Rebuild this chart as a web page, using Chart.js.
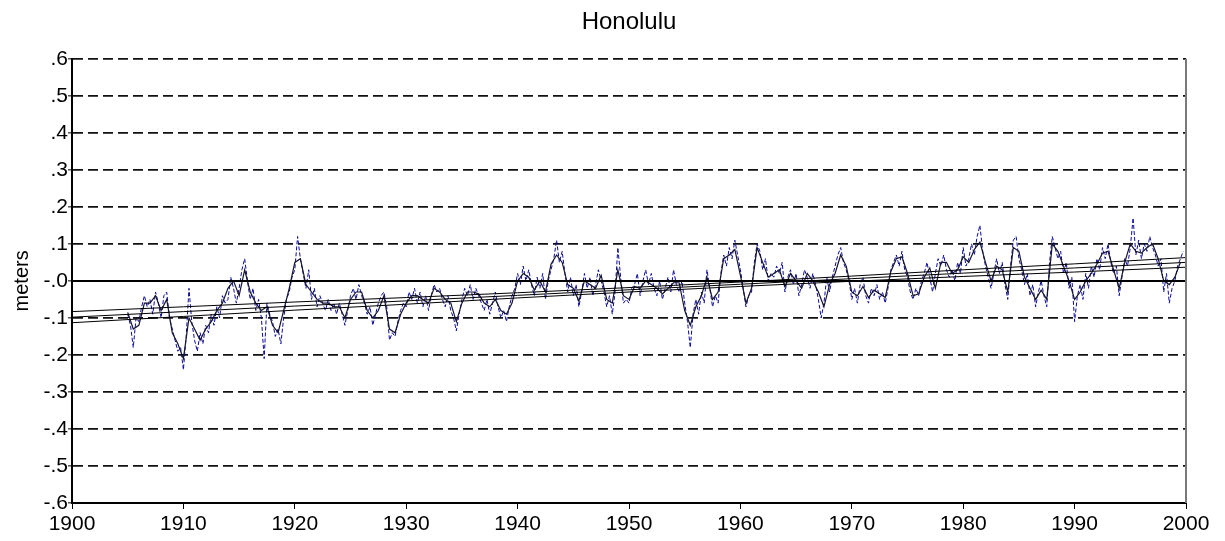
<!DOCTYPE html>
<html>
<head>
<meta charset="utf-8">
<title>Honolulu</title>
<script src="https://cdn.jsdelivr.net/npm/chart.js@4.4.0/dist/chart.umd.min.js"></script>
<style>
  html, body { margin: 0; padding: 0; background: #fff; }
  .chart-box { position: relative; width: 1225px; height: 541px; }
</style>
</head>
<body>
<div class="chart-box"><canvas id="seaLevelChart"></canvas></div>
<script>
// Honolulu sea level anomaly (meters)
const chartTitle = 'Honolulu';
const yAxisTitle = 'meters';
const yTickLabels = ['-.6', '-.5', '-.4', '-.3', '-.2', '-.1', '-.0', '.1', '.2', '.3', '.4', '.5', '.6'];

// raw series, quarterly from 1905.0 (dashed blue)
const rawStart = 1905;
const rawStep = 0.25;
const rawLevel = [
    -0.09, -0.12, -0.18, -0.10,   -0.11, -0.07, -0.04, -0.07,   // 1905-06
    -0.05, -0.09, -0.03, -0.06,   -0.10, -0.04, -0.03, -0.10,   // 1907-08
    -0.13, -0.16, -0.19, -0.18,   -0.24, -0.15, -0.02, -0.11,   // 1909-10
    -0.16, -0.19, -0.14, -0.17,   -0.12, -0.14, -0.09, -0.12,   // 1911-12
    -0.07, -0.10, -0.04, -0.06,   -0.05, 0.01, -0.02, -0.06,    // 1913-14
    -0.02, 0.03, 0.06, 0.00,      -0.05, -0.02, -0.08, -0.05,   // 1915-16
    -0.10, -0.21, -0.06, -0.09,   -0.11, -0.15, -0.13, -0.17,   // 1917-18
    -0.10, -0.05, -0.03, 0.01,    0.03, 0.12, 0.06, 0.02,       // 1919-20
    -0.02, 0.03, -0.05, -0.02,    -0.07, -0.04, -0.06, -0.08,   // 1921-22
    -0.05, -0.08, -0.06, -0.09,   -0.06, -0.09, -0.12, -0.08,   // 1923-24
    -0.04, -0.02, -0.05, -0.01,   -0.04, -0.06, -0.09, -0.07,   // 1925-26
    -0.12, -0.09, -0.06, -0.04,   -0.03, -0.07, -0.16, -0.14,   // 1927-28
    -0.15, -0.11, -0.08, -0.06,   -0.07, -0.03, -0.05, -0.02,   // 1929-30
    -0.06, -0.03, -0.07, -0.04,   -0.08, -0.04, -0.01, -0.03,   // 1931-32
    -0.02, -0.05, -0.07, -0.04,   -0.08, -0.10, -0.135, -0.09,  // 1933-34
    -0.05, -0.02, -0.04, -0.01,   -0.05, -0.02, -0.04, -0.06,   // 1935-36
    -0.08, -0.05, -0.09, -0.06,   -0.03, -0.07, -0.10, -0.08,   // 1937-38
    -0.11, -0.07, -0.04, -0.02,   0.02, -0.01, 0.04, 0.00,      // 1939-40
    0.03, -0.01, -0.04, 0.01,     -0.02, 0.02, -0.05, 0.00,     // 1941-42
    0.03, 0.06, 0.11, 0.05,       0.08, 0.02, -0.03, 0.01,      // 1943-44
    -0.04, -0.01, -0.07, -0.03,   0.02, -0.02, 0.01, -0.04,     // 1945-46
    -0.01, 0.03, 0.00, -0.03,     -0.07, -0.04, -0.09, -0.03,   // 1947-48
    0.09, 0.01, -0.06, -0.05,     -0.06, -0.02, -0.01, 0.02,    // 1949-50
    -0.04, 0.00, 0.03, -0.01,     0.02, -0.02, -0.04, 0.00,     // 1951-52
    -0.05, -0.02, 0.01, -0.03,    0.03, -0.01, -0.03, 0.00,     // 1953-54
    -0.06, -0.11, -0.18, -0.09,   -0.05, -0.09, -0.03, -0.06,   // 1955-56
    0.03, -0.02, -0.07, -0.04,    -0.06, 0.02, 0.07, 0.04,      // 1957-58
    0.09, 0.06, 0.11, 0.07,       0.03, -0.02, -0.07, -0.04,    // 1959-60
    -0.03, 0.05, 0.10, 0.08,      0.03, 0.06, 0.00, 0.02,       // 1961-62
    0.01, 0.04, 0.02, 0.05,       -0.03, 0.01, 0.03, -0.01,     // 1963-64
    0.02, -0.04, -0.01, 0.03,     0.01, -0.02, 0.02, -0.01,     // 1965-66
    -0.05, -0.10, -0.06, 0.01,    -0.03, 0.01, 0.04, 0.07,      // 1967-68
    0.09, 0.05, 0.03, 0.00,       -0.05, -0.02, -0.06, -0.01,   // 1969-70
    0.01, -0.04, -0.06, -0.02,    -0.04, -0.01, -0.05, -0.03,   // 1971-72
    -0.06, -0.02, 0.03, 0.05,     0.07, 0.04, 0.08, 0.03,       // 1973-74
    0.01, -0.03, -0.05, -0.02,    -0.04, 0.00, 0.02, 0.05,      // 1975-76
    0.01, -0.03, 0.02, 0.06,      0.04, 0.07, 0.03, 0.01,       // 1977-78
    0.03, 0.00, 0.05, 0.02,       0.09, 0.04, 0.06, 0.10,       // 1979-80
    0.07, 0.12, 0.15, 0.08,       0.04, 0.01, -0.02, 0.02,      // 1981-82
    0.06, 0.02, 0.05, -0.01,      -0.05, 0.04, 0.11, 0.12,      // 1983-84
    0.06, 0.03, -0.01, 0.02,      -0.04, -0.01, -0.07, -0.03,   // 1985-86
    0.00, -0.04, -0.07, 0.05,     0.12, 0.09, 0.06, 0.08,       // 1987-88
    0.02, 0.05, -0.02, 0.01,      -0.11, -0.04, -0.01, -0.05,   // 1989-90
    0.02, -0.02, 0.04, 0.01,      0.06, 0.03, 0.09, 0.06,       // 1991-92
    0.10, 0.05, 0.02, 0.04,       -0.04, 0.01, 0.06, 0.04,      // 1993-94
    0.09, 0.17, 0.07, 0.11,       0.06, 0.10, 0.08, 0.12,       // 1995-96
    0.09, 0.07, 0.04, 0.06,       -0.03, 0.02, -0.06, -0.02,    // 1997-98
    0.00, 0.04, 0.06, 0.08                                      // 1999
];

// smoothed series, half-yearly from 1905.0 (solid dark line)
const smoothStart = 1905;
const smoothStep = 0.5;
const smoothLevel = [
    -0.085, -0.13, -0.12, -0.06, -0.06, -0.04, -0.08, -0.05, -0.14, -0.17,      // 1905-09
    -0.21, -0.10, -0.13, -0.16, -0.13, -0.11, -0.08, -0.06, -0.02, 0.00,        // 1910-14
    -0.04, 0.03, -0.03, -0.06, -0.08, -0.07, -0.12, -0.14, -0.08, -0.02,        // 1915-19
    0.05, 0.06, -0.01, -0.03, -0.05, -0.06, -0.06, -0.07, -0.07, -0.10,         // 1920-24
    -0.05, -0.03, -0.03, -0.08, -0.10, -0.08, -0.04, -0.13, -0.14, -0.09,       // 1925-29
    -0.06, -0.04, -0.04, -0.05, -0.06, -0.02, -0.03, -0.05, -0.06, -0.11,       // 1930-34
    -0.06, -0.03, -0.03, -0.035, -0.06, -0.07, -0.05, -0.08, -0.09, -0.06,      // 1935-39
    0.00, 0.02, 0.01, -0.025, 0.00, -0.03, 0.045, 0.07, 0.05, -0.01,            // 1940-44
    -0.02, -0.055, 0.00, -0.01, -0.02, 0.015, -0.05, -0.06, 0.03, -0.04,        // 1945-49
    -0.05, -0.015, -0.02, 0.00, -0.01, -0.02, -0.035, -0.02, -0.005, -0.005,    // 1950-54
    -0.08, -0.12, -0.07, -0.04, 0.01, -0.05, -0.03, 0.06, 0.07, 0.085,          // 1955-59
    0.015, -0.06, -0.02, 0.09, 0.05, 0.01, 0.02, 0.03, -0.015, 0.02,            // 1960-64
    0.00, -0.02, 0.02, 0.00, -0.03, -0.07, -0.01, 0.02, 0.07, 0.04,             // 1965-69
    -0.03, -0.04, -0.015, -0.045, -0.025, -0.035, -0.045, 0.025, 0.06, 0.065,   // 1970-74
    0.02, -0.04, -0.035, 0.01, 0.035, -0.02, 0.05, 0.05, 0.02, 0.03,            // 1975-79
    0.065, 0.05, 0.085, 0.105, 0.05, 0.00, 0.04, 0.03, -0.03, 0.09,             // 1980-84
    0.08, 0.01, -0.02, -0.05, -0.025, -0.05, 0.10, 0.08, 0.04, 0.00,            // 1985-89
    -0.05, -0.03, 0.00, 0.02, 0.045, 0.075, 0.08, 0.03, -0.02, 0.05,            // 1990-94
    0.10, 0.08, 0.075, 0.09, 0.10, 0.06, 0.00, -0.01, 0.01, 0.05                // 1995-99
];

// linear trend with its two confidence bounds, by decade
const trendYears = [1900, 1910, 1920, 1930, 1940, 1950, 1960, 1970, 1980, 1990, 2000];
const trendMid   = [-0.098, -0.083, -0.068, -0.054, -0.039, -0.024, -0.009, 0.006, 0.021, 0.035, 0.050];
const trendUpper = [-0.083, -0.070, -0.057, -0.045, -0.032, -0.018, -0.003, 0.013, 0.030, 0.046, 0.063];
const trendLower = [-0.113, -0.096, -0.079, -0.063, -0.046, -0.030, -0.015, -0.001, 0.012, 0.024, 0.037];

// zero reference line
const refYears = [1900, 2000];
const refLevel = [0, 0];

const fontFamily = "'Liberation Sans', Arial, sans-serif";

const toPoints = (xs, ys) => ys.map((y, i) => ({ x: xs[i], y: y }));
const toSteps = (start, step, ys) => ys.map((y, i) => ({ x: start + i * step, y: y }));

// right frame line in grey
const rightFrame = {
    id: 'rightFrame',
    afterDraw(chart) {
        const { ctx, chartArea } = chart;
        ctx.save();
        ctx.strokeStyle = '#7a7a7a';
        ctx.lineWidth = 2;
        ctx.beginPath();
        ctx.moveTo(chartArea.right, chartArea.top);
        ctx.lineTo(chartArea.right, chartArea.bottom);
        ctx.stroke();
        ctx.restore();
    }
};

const initializeChart = () => {
    const ctx = document.getElementById('seaLevelChart');
    if (!ctx) return;

    const trendStyle = {
        borderColor: '#000',
        borderWidth: 1,
        pointRadius: 0,
        fill: false,
        order: 0
    };

    return new Chart(ctx.getContext('2d'), {
        type: 'line',
        data: {
            datasets: [{
                label: 'raw',
                data: toSteps(rawStart, rawStep, rawLevel),
                borderColor: '#0a0a9a',
                borderWidth: 1,
                borderDash: [4, 2],
                pointRadius: 0,
                order: 3
            }, {
                label: 'smoothed',
                data: toSteps(smoothStart, smoothStep, smoothLevel),
                borderColor: '#15152e',
                borderWidth: 1.2,
                pointRadius: 0,
                order: 2
            }, {
                label: 'zero',
                data: toPoints(refYears, refLevel),
                borderColor: '#000',
                borderWidth: 2,
                pointRadius: 0,
                order: 1
            },
            Object.assign({ label: 'trend', data: toPoints(trendYears, trendMid) }, trendStyle),
            Object.assign({ label: 'upper', data: toPoints(trendYears, trendUpper) }, trendStyle),
            Object.assign({ label: 'lower', data: toPoints(trendYears, trendLower) }, trendStyle)
            ]
        },
        options: {
            responsive: true,
            maintainAspectRatio: false,
            animation: false,
            layout: {
                padding: { left: 0, right: 39, top: 0, bottom: 0 }
            },
            scales: {
                x: {
                    type: 'linear',
                    min: 1900,
                    max: 2000,
                    afterFit: (scale) => { scale.height = 38; },
                    ticks: {
                        stepSize: 10,
                        color: '#000',
                        padding: 3,
                        maxRotation: 0,
                        font: { family: fontFamily, size: 21 },
                        callback: (value) => String(value)
                    },
                    grid: {
                        drawOnChartArea: false,
                        drawTicks: true,
                        tickLength: 6,
                        color: '#000'
                    },
                    border: { display: true, color: '#000', width: 2 }
                },
                y: {
                    min: -0.6,
                    max: 0.6,
                    afterFit: (scale) => { scale.width = 72; },
                    ticks: {
                        stepSize: 0.1,
                        color: '#000',
                        padding: 0,
                        font: { family: fontFamily, size: 21 },
                        callback: (value, index) => yTickLabels[index]
                    },
                    grid: {
                        color: '#111',
                        lineWidth: 1.7,
                        drawTicks: true,
                        tickLength: 4,
                        tickColor: '#000',
                        tickWidth: 1
                    },
                    border: { display: true, color: '#000', width: 2, dash: [10, 5] },
                    title: {
                        display: true,
                        text: yAxisTitle,
                        color: '#000',
                        padding: { top: 10, bottom: 0 },
                        font: { family: fontFamily, size: 20 }
                    }
                }
            },
            plugins: {
                legend: { display: false },
                tooltip: { enabled: false },
                title: {
                    display: true,
                    text: chartTitle,
                    fullSize: false,
                    color: '#000',
                    padding: { top: 8, bottom: 22 },
                    font: { family: fontFamily, size: 24, weight: 'normal' }
                }
            }
        },
        plugins: [rightFrame]
    });
};

let seaLevelChart;

document.addEventListener('DOMContentLoaded', () => {
    seaLevelChart = initializeChart();
});
</script>
</body>
</html>
